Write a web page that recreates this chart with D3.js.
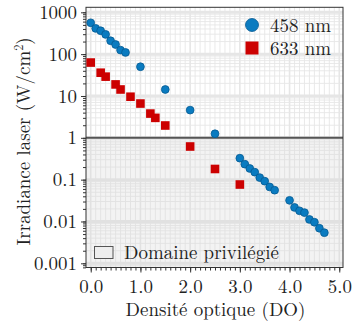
<!DOCTYPE html>
<html><head><meta charset="utf-8">
<script src="https://cdn.jsdelivr.net/npm/d3@7"></script>
<style>body{margin:0;background:#fff}svg{display:block}</style>
</head><body><svg id="c" width="363" height="325"></svg>
<script>
const blueDO = [0.0,0.1,0.2,0.3,0.4,0.5,0.6,0.7,1.0,1.5,2.0,2.5,3.0,3.1,3.2,3.3,3.4,3.5,3.6,3.7,4.0,4.1,4.2,4.3,4.4,4.5,4.6,4.7];
const blueIrr = [562,413,363,297,209,170,125,110,50,14.3,4.6,1.25,0.326,0.235,0.185,0.151,0.112,0.092,0.067,0.056,0.032,0.0217,0.018,0.0163,0.0112,0.0096,0.0069,0.0054];
const redDO = [0.0,0.2,0.3,0.5,0.6,0.8,1.0,1.2,1.3,1.5,2.0,2.5,3.0];
const redIrr = [63,36,29,18.9,14.3,9.6,6.6,3.8,3.0,1.97,0.62,0.18,0.0765];
const xTicks = [0,1,2,3,4,5];
const yTicks = [1000,100,10,1,0.1,0.01,0.001];
const yTickLabels = ["1000","100","10","1","0.1","0.01","0.001"];
const seriesNames = ["458 nm","633 nm"];
const regionLabel = "Domaine privilégié";

const FF='"Latin Modern Roman","CMU Serif","Liberation Serif","Nimbus Roman","Noto Serif","DejaVu Serif",serif';
const L=86,R=343,T=7.3,B=267.5;
const svg=d3.select("#c");
// calibrate font size so that the x-axis label is ~180px wide
const probe=svg.append("text").style("font-family",FF).style("font-size","20px").text("Densité optique (DO)");
const FS=20*180/probe.node().getComputedTextLength();
probe.remove();

const x=d3.scaleLinear().domain([-0.095,5.075]).range([L,R]);
const y=d3.scaleLog().domain([Math.pow(10,-3.1),Math.pow(10,3.12)]).range([B,T]);

// grid
const g=svg.append("g");
const minorX=d3.range(0,51).map(i=>i/10);
g.selectAll(".vx").data(minorX).join("line").attr("x1",d=>x(d)).attr("x2",d=>x(d)).attr("y1",T).attr("y2",B)
 .attr("stroke","#e6e6e6").attr("stroke-width",d=>Math.abs(d-Math.round(d))<1e-9?1.6:0.9);
const minorY=[];for(let e=-4;e<=3;e++){for(let m=1;m<10;m++){const v=m*Math.pow(10,e);if(y(v)>=T&&y(v)<=B)minorY.push({v,major:m===1});}}
g.selectAll(".hy").data(minorY).join("line").attr("x1",L).attr("x2",R).attr("y1",d=>y(d.v)).attr("y2",d=>y(d.v))
 .attr("stroke","#e6e6e6").attr("stroke-width",d=>d.major?3:0.9);
// shaded region
svg.append("rect").attr("x",L).attr("y",y(1)).attr("width",R-L).attr("height",B-y(1)).attr("fill","#d8d8d8").attr("opacity",0.3);
svg.append("line").attr("x1",L).attr("x2",R).attr("y1",y(1)).attr("y2",y(1)).attr("stroke","#555").attr("stroke-width",2);
// frame
svg.append("rect").attr("x",L).attr("y",T).attr("width",R-L).attr("height",B-T).attr("fill","none").attr("stroke","#333").attr("stroke-width",1);

// axes
const xa=svg.append("g").attr("transform",`translate(0,${B})`);
xa.call(d3.axisBottom(x).tickValues(minorX).tickSize(3).tickFormat(""));
const xm=svg.append("g").attr("transform",`translate(0,${B})`);
xm.call(d3.axisBottom(x).tickValues(xTicks).tickSize(5).tickPadding(6).tickFormat(d3.format(".1f")));
const ya=svg.append("g").attr("transform",`translate(${L},0)`);
ya.call(d3.axisLeft(y).tickValues(minorY.map(d=>d.v)).tickSize(3).tickFormat(""));
const ym=svg.append("g").attr("transform",`translate(${L},0)`);
ym.call(d3.axisLeft(y).tickValues(yTicks).tickSize(5).tickPadding(4).tickFormat((d,i)=>yTickLabels[i]));
svg.selectAll(".domain").remove();
svg.selectAll(".tick line").attr("stroke","#333");
svg.selectAll(".tick text").style("font-family",FF).style("font-size",FS+"px").attr("fill","#222");
xm.selectAll(".tick text").attr("dy","0.75em");

// data
svg.append("g").selectAll("rect").data(redDO.map((d,i)=>[d,redIrr[i]])).join("rect")
 .attr("x",d=>x(d[0])-4.3).attr("y",d=>y(d[1])-4.3).attr("width",8.6).attr("height",8.6).attr("fill","#cc0000");
svg.append("g").selectAll("circle").data(blueDO.map((d,i)=>[d,blueIrr[i]])).join("circle")
 .attr("cx",d=>x(d[0])).attr("cy",d=>y(d[1])).attr("r",3.9).attr("fill","#0a7bc0").attr("stroke","#065a92").attr("stroke-width",0.8);

function txt(xp,yp,s){return svg.append("text").attr("x",xp).attr("y",yp).style("font-family",FF).style("font-size",FS+"px").attr("fill","#222").text(s);}
// legend
svg.append("circle").attr("cx",252).attr("cy",25).attr("r",6.5).attr("fill","#0a7bc0").attr("stroke","#065a92").attr("stroke-width",0.8);
svg.append("rect").attr("x",245.5).attr("y",41.5).attr("width",13).attr("height",13).attr("fill","#cc0000");
txt(270,31.5,seriesNames[0]);
txt(270,54.5,seriesNames[1]);
svg.append("rect").attr("x",94.5).attr("y",246.5).attr("width",18.5).attr("height",12).attr("fill","#eeeeee").attr("stroke","#555").attr("stroke-width",1);
txt(124,259,regionLabel);

// axis labels
txt((L+R)/2+1,316,"Densité optique (DO)").attr("text-anchor","middle");
svg.append("text").attr("transform",`translate(30,${(T+B)/2+4}) rotate(-90)`).attr("text-anchor","middle").style("font-family",FF).style("font-size",FS+"px").attr("fill","#222")
 .html('Irradiance laser (W/cm<tspan dy="-7" font-size="'+(FS*0.65)+'">2</tspan><tspan dy="7">)</tspan>');
</script></body></html>
